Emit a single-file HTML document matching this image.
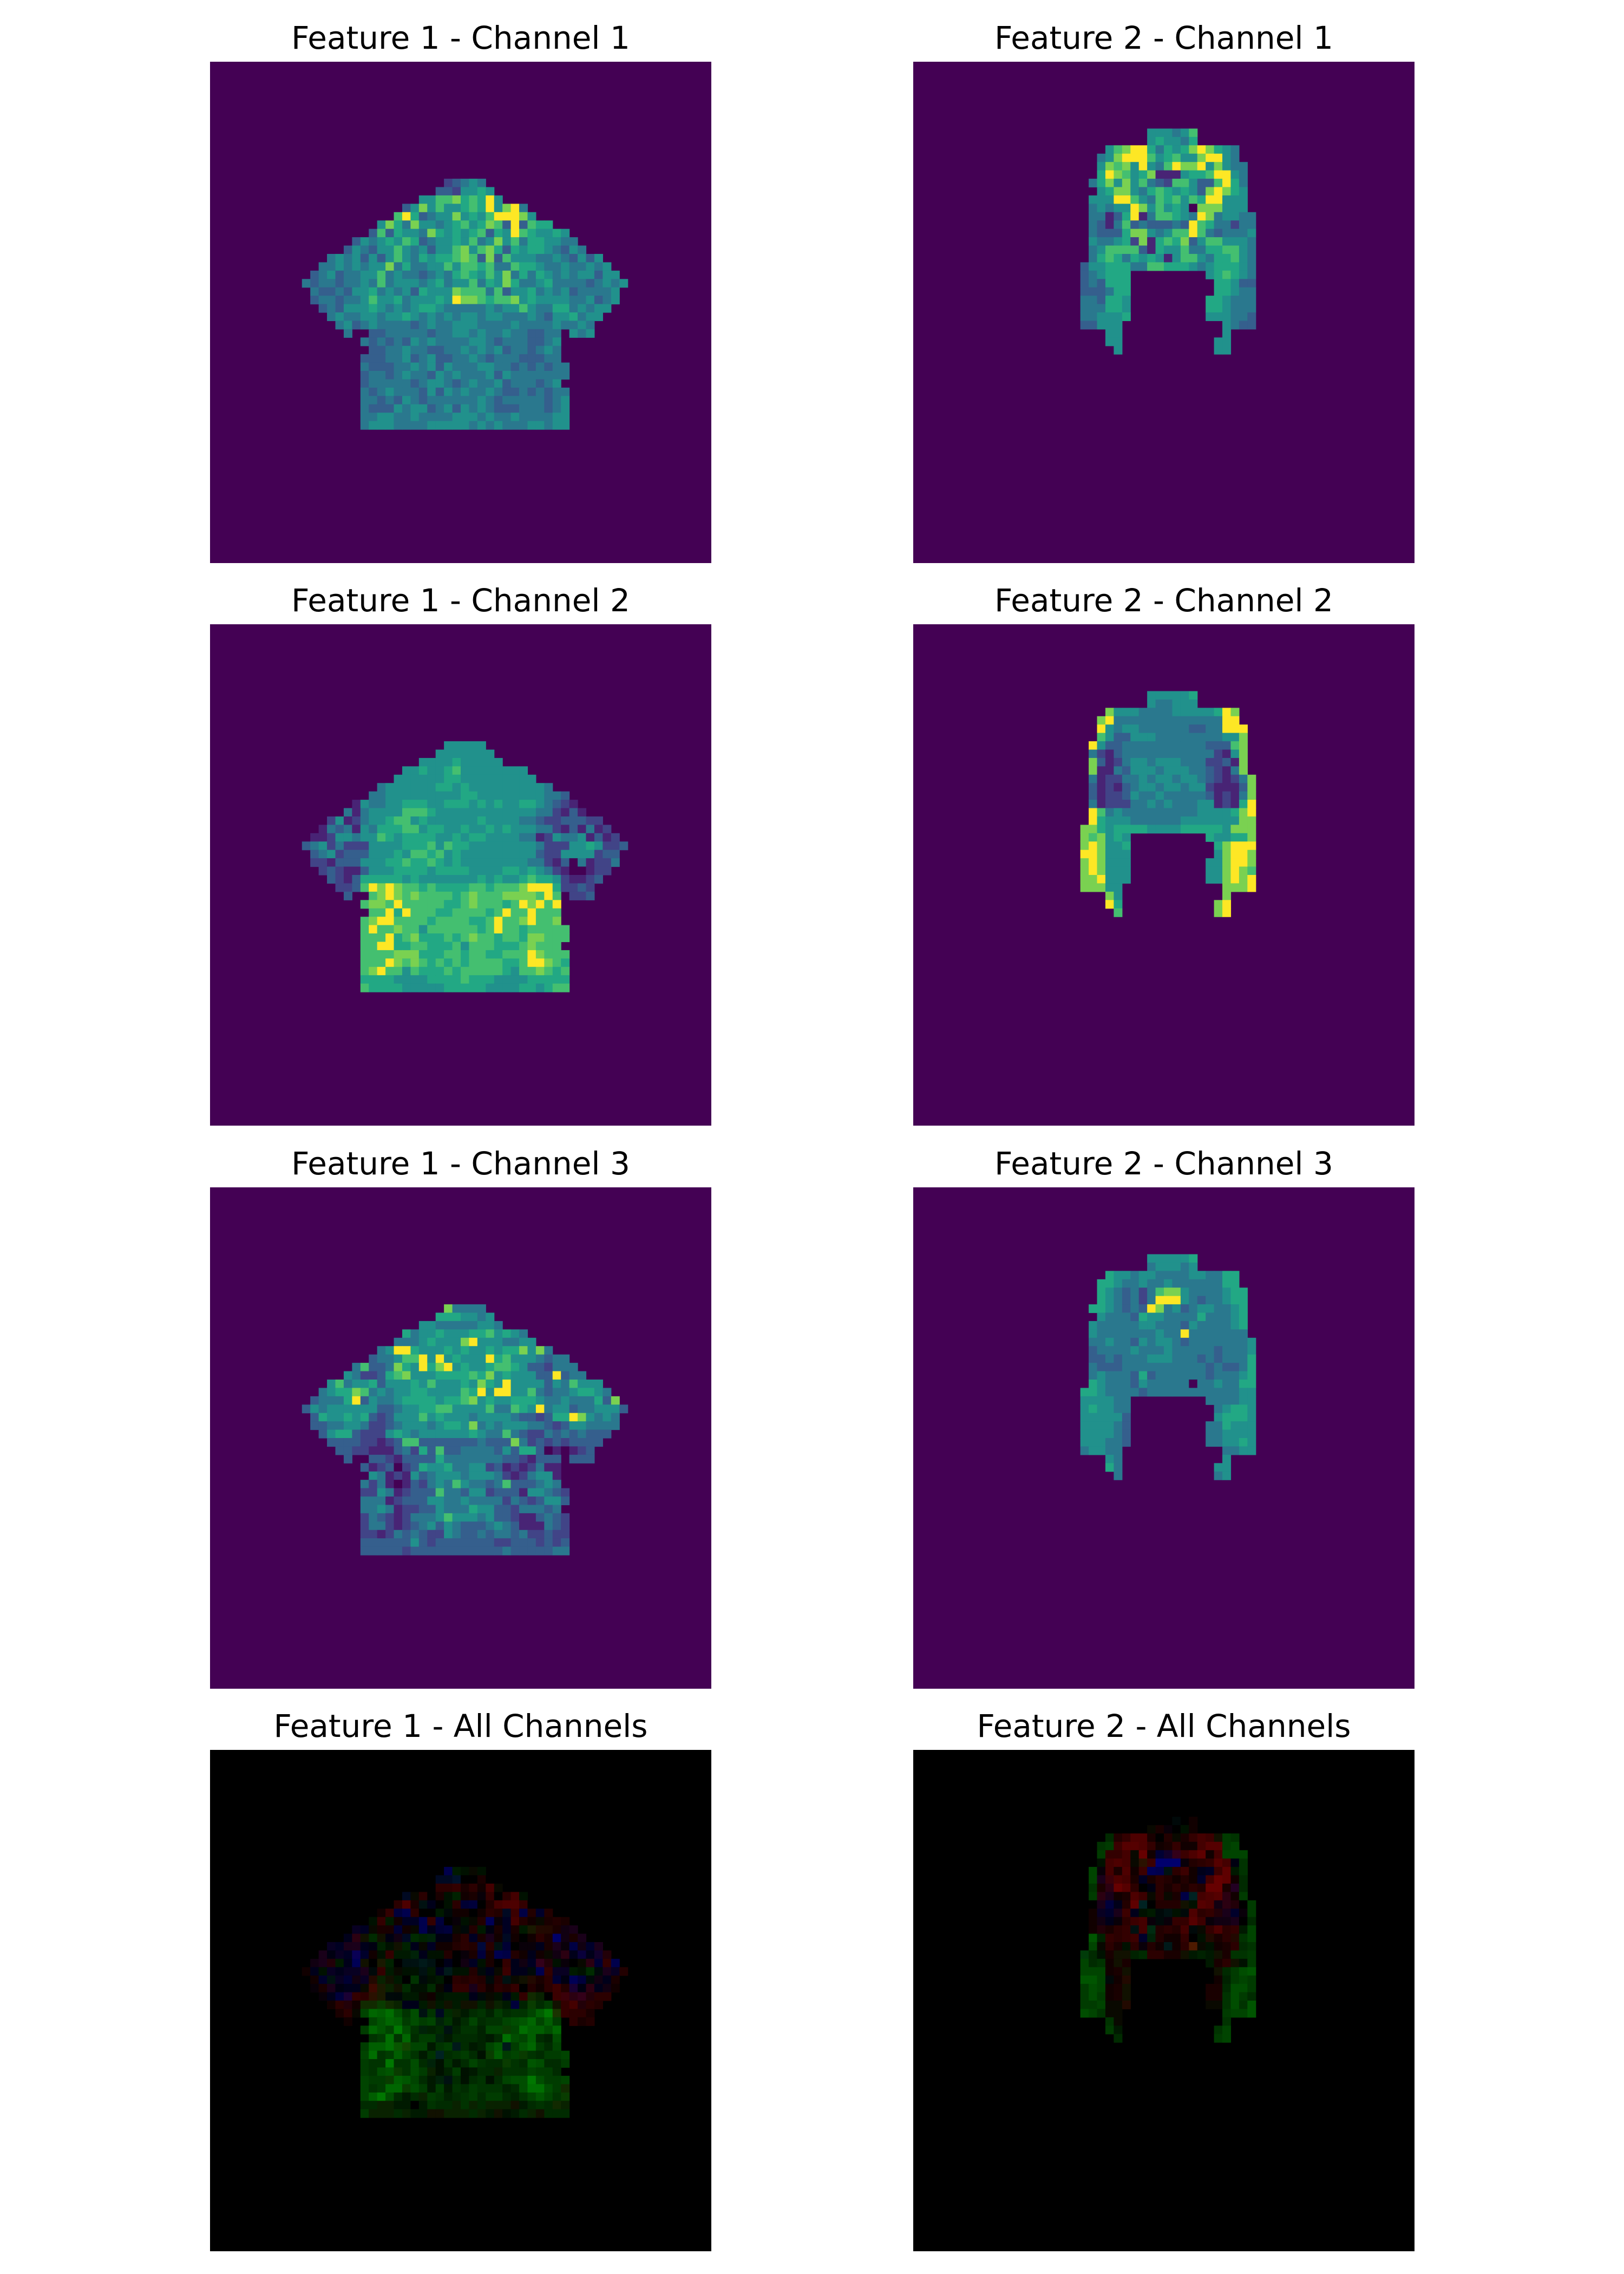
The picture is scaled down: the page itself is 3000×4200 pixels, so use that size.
<!DOCTYPE html>
<html><head><meta charset="utf-8"><style>
html,body{margin:0;padding:0;background:#fff;}
svg{display:block;}
text{font-family:"DejaVu Sans","Liberation Sans",sans-serif;font-size:58px;fill:#000;}
</style></head><body>
<svg id="fig" width="3000" height="4200" viewBox="0 0 3000 4200" xmlns="http://www.w3.org/2000/svg"></svg>
<script>
// grid geometry of the images (60x60 feature maps)
const gridSize = 60;
const shirtRow0 = 14, shirtCol0 = 11;
const hoodRow0 = 8, hoodCol0 = 20;

// Feature 1 (shirt) channel values, digits 0-9 => value/9, "start:values"
const f1c1Rows = [
"17:23454","16:3325565","14:5577867695","12:358575567695894","11:79634558565799985",
"9:586485545675687393766","8:373655486565673659765565","6:354565763455657458574665544",
"5:35435575453557857863656654354","3:454535357546566787383755544543535",
"2:44545455846445575776744766544544545","1:3453445574544345467657584646545455355",
"0:434434454745554564557465864456444434545","1:4334355645453655587774735564545344445",
"1:3443445755645556598876778565555445345","2:34355565454566544444545575446645455",
"3:454455455654545455455444543556455","4:4534544443454455544445444454454",
"5:4..33444443445545445443344.545","7:434343545444455434443345","8:33445443344545453443454",
"7:333445345334454344433344","7:4333445453544455443434344","7:3443454435454445354444444",
"7:344444345543454453444345","7:4345444353545445433434344","7:4434354344444454344444345",
"7:4333545534535454333444345","7:4455445444455545445444455","7:4555444455555454544455455"];
const f1c2Rows = [
"17:55555","16:5555555","14:5555655555","12:556556755555555","11:55555566555555555",
"9:455555566565555555554","8:445555555556655555555443","6:154455666556665656556654321",
"5:41455557776555555555555442131","3:251245567756555555655554432233322",
"2:14341546667756655655656555442131412","1:1125545576566665565665555441254451312",
"0:345242225555666757665555555542225565223","1:3452333555657767565555555553225555233",
"1:2213335556676676565555555544213041224","2:23211355566665666655556656542100122",
"3:321366666565555555656556766521123","4:2237989877676666776777899962232",
"5:3..78987877776787778888797.223","7:788797777766787776798979","8:77969777667777679779777",
"7:789977776777766797789778","7:7977877577777767977677777","7:7779678666767877677688777",
"7:779966776667577766678777","7:7777888666776776677798777","7:7779878767676777766799876",
"7:7897757666767777765778767","7:6666555566667666555566666","7:7666655555666665555665677"];
const f1c3Rows = [
"17:84444","16:6665545","14:5544444554","12:645565556675654","11:44456555895554455",
"9:459965556565565668584","8:344577959565559675554344","6:473348659689565567765332444",
"5:54223678555666676856555339344","3:574556355565755565865955553547555",
"2:45668745455665555769599557434456654","1:3444693544566665667856556665445444638",
"0:354555555334556677555574476594553445553","1:3655656323555756555455554332366985454",
"1:3344554223455545665845455544323554444","2:35663222565455555565447432243434333",
"3:333322123773333333433384232323333","4:3322111342637334444353663010123",
"5:3..33213333644444443321333.333","7:312302365564455231212411","8:54121534555455542124551",
"7:424101324547544347333454","7:2254123337443552333155432","7:4441233355445444424323553",
"7:445412233544465533244434","7:2432124445755545332113432","7:2442123453543334543111432",
"7:2212434322543343443422322","7:3333335323333333223332323","7:3333323333333333343333344"];

// Feature 2 (hood) channel values
const f2c1Rows = [
"8:555457","8:565546","3:5789964656898654","2:45899975675589954","2:587859547988958544",
"2:698756811156679954","1:4685857432775337964","2:568854676565389865","1:5559975476757699555",
"1:4545598575650888555","1:44136914776549845544","1:43147343334397644244","1:43336885457797434445",
"1:54456281676835775554","1:45777731655744667754","1:46764656515775466754","0:355666447766654566654",
"0:345666.........567654","0:343666..........66533","0:333466..........66544","0:443665.........665444",
"0:444665.........665444","0:445556.........555443","0:33555............5433","3:55............5",
"3:55...........55","4:5...........55"];
const f2c2Rows = [
"8:555556","8:544555","3:8555444455555698","2:89444444444444499","2:954554444443344999",
"2:753355544444444558","1:9533444444444433378","1:4213444444444442158","1:8312455455544422318",
"1:8114355545554432148","1:41224454554554321248","1:31213455455455211138","1:31223544544444312148",
"1:41222445454445512169","1:97454444444445555689","1:96555444444555555588","0:886566665555666665888",
"0:878565.........655668","0:898556..........68999","0:998555..........58998","0:898555.........558998",
"0:898555.........558987","0:889555.........558989","0:88855............8889","3:85............8",
"3:96...........89","4:7...........89"];
const f2c3Rows = [
"8:555556","8:455545","3:6554554444554466","2:66544544544444466","2:654342478854444566",
"2:654342499954344566","1:6654343984534554456","2:544436554444644456","1:5444445544435444456",
"1:5444444454494444444","1:44544354554344444445","1:34444544454444434445","1:33434445554443434446",
"1:43334444444444343346","1:45444363444444344456","1:65444354444404454466","0:665444434444444444455",
"0:555544.........444455","0:565544..........45665","0:555553..........56665","0:555543.........446555",
"0:555543.........445555","0:555443.........445565","0:45544............4455","3:54............5",
"3:64...........55","4:4...........45"];

const titles = ["Feature 1 - Channel 1","Feature 2 - Channel 1","Feature 1 - Channel 2","Feature 2 - Channel 2",
"Feature 1 - Channel 3","Feature 2 - Channel 3","Feature 1 - All Channels","Feature 2 - All Channels"];

// layout
const colX = [388, 1687];
const rowY = [114, 1153, 2193, 3232];
const panelSize = 926;
const cell = panelSize / gridSize;
const NS = "http://www.w3.org/2000/svg";
const svg = document.getElementById('fig');

const stops = ["#440154","#482475","#414487","#355f8d","#2a788e","#21918c","#22a884","#44bf70","#7ad151","#fde725"];
function hex(h){return [parseInt(h.substr(1,2),16),parseInt(h.substr(3,2),16),parseInt(h.substr(5,2),16)];}
function viridis(t){
  t=Math.max(0,Math.min(1,t));const p=t*(stops.length-1);const i=Math.min(stops.length-2,Math.floor(p));const f=p-i;
  const a=hex(stops[i]),b=hex(stops[i+1]);
  return "rgb("+a.map((v,k)=>Math.round(v+(b[k]-v)*f)).join(",")+")";
}
function parseGrid(rows,r0,c0){
  const g=[];for(let r=0;r<gridSize;r++){g.push(new Array(gridSize).fill(null));}
  rows.forEach((s,ri)=>{const k=s.indexOf(':');const st=parseInt(s.slice(0,k));const v=s.slice(k+1);
    for(let i=0;i<v.length;i++){if(v[i]==='.')continue;const r=r0+ri,c=c0+st+i;if(r<gridSize&&c<gridSize)g[r][c]=parseInt(v[i])/9;}});
  return g;
}
function mk(tag,attrs){const e=document.createElementNS(NS,tag);for(const k in attrs)e.setAttribute(k,attrs[k]);return e;}

function drawPanel(pi, grid, bg, colorFn, name){
  const x0=colX[pi%2], y0=rowY[Math.floor(pi/2)];
  const g=mk('g',{});
  
  
  const t=mk('text',{x:x0+panelSize/2,y:y0-24,'text-anchor':'middle'});
  
  
  t.textContent=titles[pi];
  g.appendChild(t);
  const b=mk('rect',{x:x0,y:y0,width:panelSize,height:panelSize,fill:bg});
  
  
  g.appendChild(b);
  for(let r=0;r<gridSize;r++)for(let c=0;c<gridSize;c++){
    const col=colorFn(r,c);if(!col)continue;
    const px=mk('rect',{x:(x0+c*cell).toFixed(2),y:(y0+r*cell).toFixed(2),width:(cell+0.6).toFixed(2),height:(cell+0.6).toFixed(2),fill:col});
    
    
    g.appendChild(px);
  }
  svg.appendChild(g);
}
const f1=[parseGrid(f1c1Rows,shirtRow0,shirtCol0),parseGrid(f1c2Rows,shirtRow0,shirtCol0),parseGrid(f1c3Rows,shirtRow0,shirtCol0)];
const f2=[parseGrid(f2c1Rows,hoodRow0,hoodCol0),parseGrid(f2c2Rows,hoodRow0,hoodCol0),parseGrid(f2c3Rows,hoodRow0,hoodCol0)];
const bgV=viridis(0);
for(let ch=0;ch<3;ch++){
  drawPanel(ch*2, f1[ch], bgV, (r,c)=>f1[ch][r][c]==null?null:viridis(f1[ch][r][c]), 'feature1-channel'+(ch+1)+'-panel');
  drawPanel(ch*2+1, f2[ch], bgV, (r,c)=>f2[ch][r][c]==null?null:viridis(f2[ch][r][c]), 'feature2-channel'+(ch+1)+'-panel');
}
function rgbFn(f){return (r,c)=>{
  const v=f.map(g=>g[r][c]);if(v.every(x=>x==null))return null;
  const a=v.map(x=>x==null?0:x);
  const o=a.map((x,i)=>{const others=a.filter((_,j)=>j!==i);return Math.max(0,x-0.5*(others[0]+others[1]));});
  return "rgb("+o.map(x=>Math.round(Math.min(1,x*0.6)*255)).join(",")+")";
};}
drawPanel(6, null, "#000", rgbFn(f1), 'feature1-all-channels-panel');
drawPanel(7, null, "#000", rgbFn(f2), 'feature2-all-channels-panel');
</script>
</body></html>
